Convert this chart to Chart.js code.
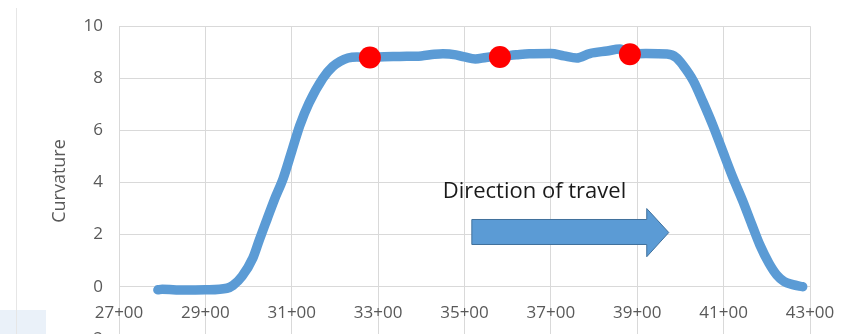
<!DOCTYPE html>
<html>
<head>
<meta charset="utf-8">
<script src="https://cdn.jsdelivr.net/npm/chart.js@4/dist/chart.umd.min.js"></script>
<style>
  html, body { margin: 0; padding: 0; background: #ffffff; }
  #wrap { position: relative; width: 859px; height: 334px; overflow: hidden; background: #ffffff; }
  #edge { position: absolute; left: 16px; top: 8px; width: 1px; height: 326px; background: #e6e6e6; }
  #band { position: absolute; left: 0; top: 310px; width: 46px; height: 24px; background: #eaf1f9; }
  #box { position: absolute; left: 0; top: 0; width: 859px; height: 365px; }
</style>
</head>
<body>
<div id="wrap">
  <div id="band"></div>
  <div id="edge"></div>
  <div id="box"><canvas id="c" width="859" height="365"></canvas></div>
</div>
<script>
// ---- data (station in feet, curvature) ----
const stations = [2790, 2800, 2850, 2900, 2950, 2964, 2985, 3010, 3025, 3043, 3060, 3080, 3100, 3119, 3140, 3172, 3195, 3212, 3230, 3251, 3281, 3300, 3350, 3400, 3430, 3450, 3480, 3500, 3525, 3550, 3582, 3620, 3650, 3700, 3730, 3760, 3790, 3830, 3860, 3883, 3920, 3969, 3990, 4006, 4030, 4052, 4075, 4098, 4120, 4144, 4165, 4184, 4205, 4223, 4240, 4260, 4283];
const curvature = [-0.12, -0.1, -0.13, -0.12, -0.06, 0.05, 0.4, 1.1, 1.8, 2.6, 3.35, 4.15, 5.2, 6.2, 7.05, 8.0, 8.45, 8.65, 8.78, 8.82, 8.8, 8.82, 8.84, 8.86, 8.92, 8.94, 8.9, 8.82, 8.74, 8.8, 8.84, 8.9, 8.94, 8.95, 8.86, 8.78, 8.95, 9.05, 9.12, 8.94, 8.95, 8.93, 8.8, 8.5, 7.9, 7.1, 6.2, 5.2, 4.25, 3.3, 2.4, 1.6, 0.9, 0.45, 0.2, 0.08, 0.0];
const markStations = [3281, 3582, 3883];
const markValues = [8.8, 8.82, 8.92];
const xTickValues = [2700, 2900, 3100, 3300, 3500, 3700, 3900, 4100, 4300];
const yTickValues = [-2, 0, 2, 4, 6, 8, 10];
const yTitle = 'Curvature';
const arrowLabel = 'Direction of travel';

const fmtStation = v => Math.floor(v / 100) + '+' + String(Math.round(v % 100)).padStart(2, '0');

const annot = {
  id: 'annot',
  afterDraw(chart) {
    const ctx = chart.ctx, xs = chart.scales.x, ys = chart.scales.y;
    ctx.save();
    ctx.fillStyle = '#595959';
    ctx.font = '18px "Open Sans"';
    ctx.textAlign = 'center';
    ctx.textBaseline = 'middle';
    ctx.translate(60, 181);
    ctx.rotate(-Math.PI / 2);
    ctx.fillText(yTitle, 0, 0);
    ctx.restore();

    ctx.save();
    const x0 = xs.getPixelForValue(3517), x1 = xs.getPixelForValue(3922), x2 = xs.getPixelForValue(3973);
    const yb1 = ys.getPixelForValue(2.58), yb2 = ys.getPixelForValue(1.62);
    const yh1 = ys.getPixelForValue(3.0), yh2 = ys.getPixelForValue(1.15), yt = ys.getPixelForValue(2.08);
    ctx.beginPath();
    ctx.moveTo(x0, yb1); ctx.lineTo(x1, yb1); ctx.lineTo(x1, yh1); ctx.lineTo(x2, yt);
    ctx.lineTo(x1, yh2); ctx.lineTo(x1, yb2); ctx.lineTo(x0, yb2); ctx.closePath();
    ctx.fillStyle = '#5b9bd5';
    ctx.fill();
    ctx.strokeStyle = '#41719c';
    ctx.lineWidth = 1;
    ctx.stroke();
    ctx.fillStyle = '#1a1a1a';
    ctx.font = '22px "Open Sans"';
    ctx.textAlign = 'center';
    ctx.textBaseline = 'middle';
    ctx.fillText(arrowLabel, xs.getPixelForValue(3662), ys.getPixelForValue(3.65));
    ctx.restore();
  }
};

new Chart(document.getElementById('c'), {
  type: 'scatter',
  data: {
    datasets: [
      {
        data: stations.map((s, i) => ({ x: s, y: curvature[i] })),
        showLine: true,
        borderColor: '#5b9bd5',
        borderWidth: 9.5,
        borderCapStyle: 'round',
        borderJoinStyle: 'round',
        cubicInterpolationMode: 'monotone',
        pointRadius: 0,
        pointHoverRadius: 0,
        order: 2
      },
      {
        data: markStations.map((s, i) => ({ x: s, y: markValues[i] })),
        showLine: false,
        pointRadius: 11,
        pointBackgroundColor: '#ff0000',
        pointBorderColor: '#ff0000',
        pointBorderWidth: 0,
        order: 1
      }
    ]
  },
  options: {
    responsive: false,
    animation: false,
    events: [],
    layout: { padding: { top: 25, right: 49, bottom: 13, left: 0 } },
    plugins: { legend: { display: false }, tooltip: { enabled: false }, title: { display: false } },
    scales: {
      x: {
        type: 'linear',
        position: { y: 0 },
        min: 2700, max: 4300,
        afterFit(s) { s.height = 0; },
        afterBuildTicks(s) { s.ticks = xTickValues.map(v => ({ value: v })); },
        grid: { color: '#d9d9d9', lineWidth: 1, drawTicks: false },
        border: { display: false },
        ticks: { color: '#595959', font: { family: 'Open Sans', size: 17 }, padding: 16, maxRotation: 0, autoSkip: false, callback: v => fmtStation(v) }
      },
      y: {
        type: 'linear',
        min: -2, max: 10,
        afterFit(s) { s.width = 119; },
        afterBuildTicks(s) { s.ticks = yTickValues.map(v => ({ value: v })); },
        grid: { color: '#d9d9d9', lineWidth: 1, drawTicks: false },
        border: { display: false },
        ticks: { color: '#595959', font: { family: 'Open Sans', size: 17 }, padding: 16 }
      }
    }
  },
  plugins: [annot]
});
</script>
</body>
</html>
